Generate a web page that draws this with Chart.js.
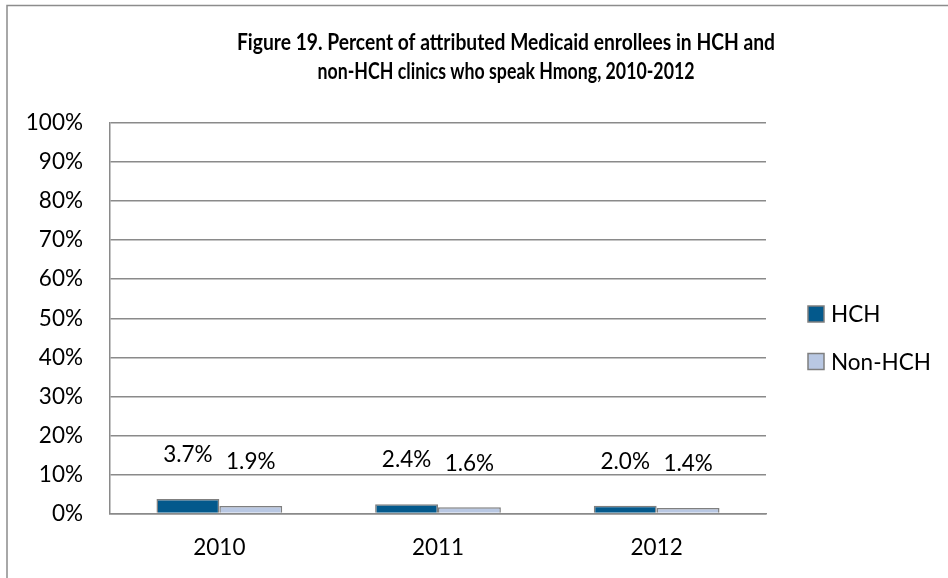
<!DOCTYPE html>
<html>
<head>
<meta charset="utf-8">
<script src="https://cdn.jsdelivr.net/npm/chart.js@4/dist/chart.umd.min.js"></script>
<style>
  html, body { margin: 0; padding: 0; background: #fff; }
  #wrap { position: relative; width: 948px; height: 578px; }
  canvas { display: block; }
</style>
</head>
<body>
<div id="wrap"><canvas id="c" width="948" height="578"></canvas></div>
<script>
const categories = ['2010', '2011', '2012'];
const hchValues = [3.7, 2.4, 2.0];
const nonHchValues = [1.9, 1.6, 1.4];
const seriesNames = ['HCH', 'Non-HCH'];
const yTickLabels = ['0%', '10%', '20%', '30%', '40%', '50%', '60%', '70%', '80%', '90%', '100%'];
const titleLines = ['Figure 19. Percent of attributed Medicaid enrollees in HCH and', 'non-HCH clinics who speak Hmong, 2010-2012'];

const FONT = 'Lato, "Open Sans", sans-serif';
const GRID = '#8a8a8a';
const BORDER = '#7f7f7f';

const decor = {
  id: 'decor',
  beforeDraw(chart) {
    const ctx = chart.ctx;
    ctx.save();
    ctx.strokeStyle = '#8c8c8c';
    ctx.lineWidth = 1.5;
    ctx.beginPath();
    ctx.moveTo(7, 578);
    ctx.lineTo(7, 5.5);
    ctx.lineTo(948, 5.5);
    ctx.stroke();
    ctx.restore();
  },
  afterDraw(chart) {
    const ctx = chart.ctx;
    ctx.save();
    // title
    ctx.fillStyle = '#000';
    ctx.font = 'bold 22.5px ' + FONT;
    ctx.textAlign = 'center';
    ctx.textBaseline = 'alphabetic';
    ctx.fillText(titleLines[0], 506, 50, 538);
    ctx.fillText(titleLines[1], 506, 79, 377);
    // data labels
    ctx.font = '22.5px ' + FONT;
    ctx.textBaseline = 'middle';
    chart.data.datasets.forEach((ds, di) => {
      const meta = chart.getDatasetMeta(di);
      meta.data.forEach((bar, i) => {
        ctx.fillText(ds.data[i].toFixed(1) + '%', bar.x, bar.y - 44);
      });
    });
    // legend
    const ys = [314, 361.5];
    ctx.textAlign = 'left';
    chart.data.datasets.forEach((ds, di) => {
      const y = ys[di];
      ctx.fillStyle = ds.backgroundColor;
      ctx.fillRect(808, y - 8, 16, 16);
      ctx.strokeStyle = BORDER;
      ctx.lineWidth = 1.5;
      ctx.strokeRect(808, y - 8, 16, 16);
      ctx.fillStyle = '#000';
      ctx.fillText(ds.label, 831, y + 1);
    });
    ctx.restore();
  }
};

new Chart(document.getElementById('c'), {
  type: 'bar',
  data: {
    labels: categories,
    datasets: [
      { label: seriesNames[0], data: hchValues, backgroundColor: '#03598c', borderColor: BORDER, borderWidth: 1.5 },
      { label: seriesNames[1], data: nonHchValues, backgroundColor: '#b9c8e3', borderColor: BORDER, borderWidth: 1.5 }
    ]
  },
  options: {
    responsive: false,
    animation: false,
    devicePixelRatio: 1,
    layout: { padding: { top: 123, right: 182, bottom: 0, left: 0 } },
    datasets: { bar: { categoryPercentage: 0.575, barPercentage: 1.0 } },
    plugins: { legend: { display: false }, title: { display: false }, tooltip: { enabled: false } },
    scales: {
      x: {
        grid: { display: false, drawTicks: false },
        border: { display: true, color: GRID, width: 1.5 },
        ticks: { color: '#000', font: { family: FONT, size: 22.5 }, padding: 21 },
        afterFit(scale) { scale.height = 64.5; }
      },
      y: {
        min: 0, max: 100,
        grid: { color: GRID, lineWidth: 1.5, drawTicks: false },
        border: { display: true, color: GRID, width: 1.5 },
        ticks: {
          stepSize: 10,
          color: '#000',
          font: { family: FONT, size: 22.5 },
          padding: 27,
          callback: (v) => yTickLabels[Math.round(v / 10)]
        },
        afterFit(scale) { scale.width = 110; }
      }
    }
  },
  plugins: [decor]
});
</script>
</body>
</html>
